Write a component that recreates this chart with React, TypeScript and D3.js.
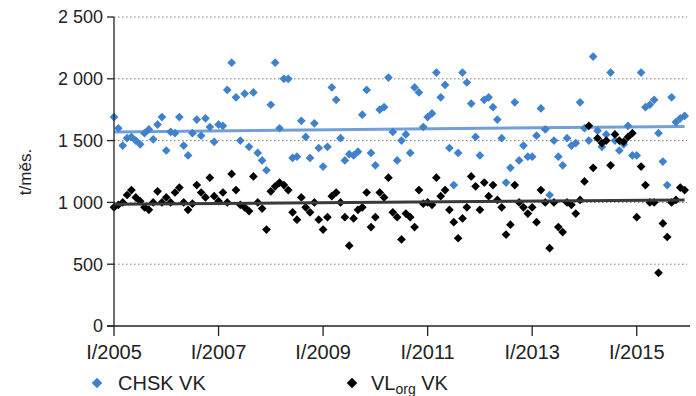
import React from "react";
import { scaleLinear, symbol, symbolSquare, range } from "d3";

// monthly values I/2005 .. XII/2015 (t/měs.)
const chskVk = [
  1690, 1600, 1460, 1520, 1530, 1500, 1470, 1560, 1590, 1510, 1630, 1690,
  1420, 1570, 1560, 1690, 1460, 1380, 1560, 1670, 1540, 1680, 1610, 1490,
  1630, 1620, 1910, 2130, 1850, 1500, 1880, 1450, 1890, 1400, 1340, 1260,
  1790, 2130, 1600, 2000, 2000, 1360, 1370, 1660, 1530, 1360, 1640, 1440,
  1290, 1450, 1930, 1830, 1520, 1340, 1390, 1380, 1410, 1710, 1910, 1400,
  1300, 1750, 1770, 2010, 1570, 1340, 1500, 1550, 1400, 1930, 1890, 1610,
  1690, 1720, 2050, 1850, 1950, 1440, 1140, 1400, 2050, 1970, 1800, 1530,
  1380, 1830, 1850, 1770, 1670, 1520, 1160, 1280, 1810, 1340, 1460, 1370,
  1370, 1540, 1760, 1590, 1060, 1500, 1370, 1300, 1520, 1460, 1480, 1810,
  1600, 1500, 2180, 1580, 1450, 1550, 2050, 1500, 1420, 1470, 1620, 1380,
  1380, 2050, 1770, 1790, 1830, 1560, 1330, 1140, 1850, 1650, 1680, 1700,
];

const vlOrgVk = [
  960, 980, 1000, 1060, 1100, 1040, 1010, 960, 940, 1000, 1090, 1000,
  1040, 1000, 1080, 1120, 1000, 940, 990, 1140, 1080, 1040, 1200, 1050,
  1010, 1080, 1000, 1230, 1100, 980, 960, 930, 1210, 1000, 950, 780,
  1090, 1130, 1160, 1140, 1100, 920, 860, 1040, 960, 920, 1000, 860,
  780, 880, 1050, 1080, 1000, 880, 650, 870, 940, 960, 1080, 800,
  880, 1080, 1040, 1200, 920, 880, 700, 910, 880, 800, 1100, 990,
  1000, 980, 1200, 1050, 1100, 940, 840, 710, 870, 960, 1210, 1130,
  940, 1160, 1050, 1140, 1020, 960, 740, 820, 1140, 1000, 960, 910,
  960, 840, 1100, 1000, 630, 1000, 800, 760, 1000, 980, 910, 1020,
  1170, 1620, 1280, 1520, 1480, 1500, 1300, 1550, 1500, 1490, 1530, 1560,
  880, 1290, 1140, 1000, 1000, 430, 830, 720, 1000, 1020, 1120, 1100,
];

// linear trend, value at first and last month
const chskTrend = [1570, 1615];
const vlOrgTrend = [985, 1020];

const xTickLabels = ["I/2005", "I/2007", "I/2009", "I/2011", "I/2013", "I/2015"];
const yTicks = [0, 500, 1000, 1500, 2000, 2500];

const BLUE = "#3f82cb";
const FONT = "'Liberation Sans', Arial, sans-serif";

const fmt = (v: number) => (v >= 1000 ? `${Math.floor(v / 1000)} ${String(v % 1000).padStart(3, "0")}` : `${v}`);

export default function App() {
  const width = 696;
  const height = 396;
  const n = chskVk.length;

  const x = scaleLinear().domain([0, n]).range([114, 689]);
  const y = scaleLinear().domain([0, 2500]).range([326, 17]);

  const diamond = symbol().type(symbolSquare).size(38)()!;
  const legendDiamond = symbol().type(symbolSquare).size(55)()!;

  return (
    <svg width={width} height={height} style={{ position: "absolute", left: 0, top: 0, background: "#fff" }} fontFamily={FONT}>
      {/* grid */}
      {yTicks.filter((t) => t > 0).map((t) => (
        <line key={t} x1={x(0)} x2={x(n) - 2} y1={y(t)} y2={y(t)} stroke="#777" strokeWidth={1} strokeDasharray="1.5 2.5" />
      ))}

      {/* trend CHSK */}
      <line x1={x(0)} x2={x(n - 1)} y1={y(chskTrend[0])} y2={y(chskTrend[1])} stroke="#739fd8" strokeWidth={3} />

      {/* points */}
      {chskVk.map((v, i) => (
        <path key={"b" + i} d={diamond} transform={`translate(${x(i)},${y(v)}) rotate(45)`} fill={BLUE} />
      ))}
      {vlOrgVk.map((v, i) => (
        <path key={"k" + i} d={diamond} transform={`translate(${x(i)},${y(v)}) rotate(45)`} fill="#000" />
      ))}
      <line x1={x(0)} x2={x(n - 1)} y1={y(vlOrgTrend[0])} y2={y(vlOrgTrend[1])} stroke="#3a3a3a" strokeWidth={3} />

      {/* y axis */}
      <line x1={x(0)} x2={x(0)} y1={y(2500)} y2={y(0)} stroke="#222" strokeWidth={1.3} />
      {yTicks.map((t) => (
        <g key={t}>
          <line x1={x(0) - 7} x2={x(0)} y1={y(t)} y2={y(t)} stroke="#222" strokeWidth={1.3} />
          <text x={x(0) - 11} y={y(t)} dy="0.35em" textAnchor="end" fontSize={18} fill="#222">
            {fmt(t)}
          </text>
        </g>
      ))}
      <text transform={`translate(31,172) rotate(-90)`} textAnchor="middle" fontSize={17} fill="#222">
        t/měs.
      </text>

      {/* x axis */}
      <line x1={x(0) - 7} x2={x(n) + 1} y1={y(0)} y2={y(0)} stroke="#222" strokeWidth={1.3} />
      {range(0, n, 24).map((m, i) => (
        <g key={m}>
          <line x1={x(m)} x2={x(m)} y1={y(0)} y2={y(0) + 10} stroke="#222" strokeWidth={1.3} />
          <text x={x(m)} y={y(0) + 33} textAnchor="middle" fontSize={20} fill="#222">
            {xTickLabels[i]}
          </text>
        </g>
      ))}

      {/* legend */}
      <path d={legendDiamond} transform="translate(97,383) rotate(45)" fill={BLUE} />
      <text x={118} y={390} fontSize={20} fill="#222">CHSK VK</text>
      <path d={legendDiamond} transform="translate(352,383) rotate(45)" fill="#000" />
      <text x={371} y={390} fontSize={20} fill="#222">
        VL<tspan fontSize={14} dy={4}>org</tspan>
        <tspan dy={-4}> VK</tspan>
      </text>
    </svg>
  );
}
